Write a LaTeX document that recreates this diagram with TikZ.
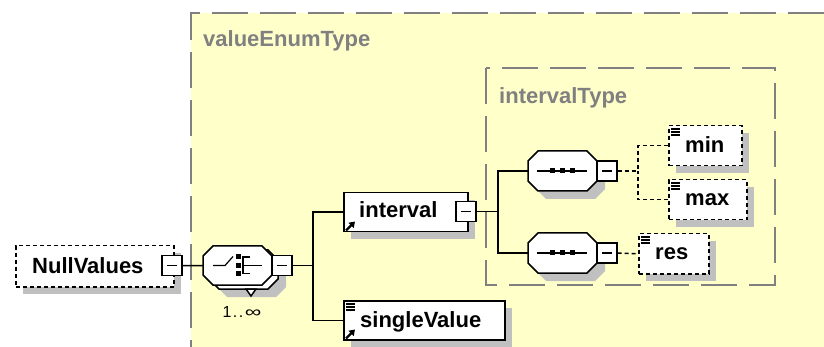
\documentclass[tikz,border=0pt]{standalone}
\usepackage{fontspec}
\setmainfont{Liberation Sans}
\usetikzlibrary{arrows.meta}
\definecolor{ybg}{RGB}{255,255,202}
\definecolor{shg}{RGB}{192,192,192}
\definecolor{tgray}{RGB}{128,128,128}
\newcommand\myoct[5]{\path[#5] ({#1+10},#2) -- ({#3-10},#2) -- (#3,{#2+10}) -- (#3,{#4-10}) -- ({#3-10},#4) -- ({#1+10},#4) -- (#1,{#4-10}) -- (#1,{#2+10}) -- cycle;}
\begin{document}
\begin{tikzpicture}[x=1pt,y=-1pt,
  sh/.style={fill=shg},
  elem/.style={draw=black,line width=1.5pt,fill=white,inner sep=0pt,anchor=north west},
  optel/.style={elem,dash pattern=on 4pt off 3pt},
  anch/.style={inner sep=0pt,anchor=north west},
  oct/.style={draw=black,line width=1.5pt,fill=white},
  minus/.style={draw=black,line width=1.3pt,fill=white,inner sep=0pt,minimum size=20pt,
    path picture={\draw[line width=1.2pt] ([xshift=5pt]path picture bounding box.west) -- ([xshift=-5pt]path picture bounding box.east);}},
  con/.style={draw=black,line width=1.5pt},
  dcon/.style={con,dash pattern=on 4pt off 3pt},
  tbord/.style={draw=tgray,line width=1.8pt,dash pattern=on 36pt off 12pt},
  lbl/.style={font=\bfseries\fontsize{22}{26}\selectfont,inner sep=0pt,anchor=base west},
  tlbl/.style={lbl,text=tgray},
  ico/.style={line width=1.2pt},
  arr/.style={line width=2.3pt,-{Triangle[length=5.5pt,width=7pt]}},
  sq/.style={fill=black}
]
\useasboundingbox (0,0) rectangle (824,347);
% type regions
\fill[ybg] (191,13) rectangle (824,347);
\draw[tbord] (824,13) -- (191,13) -- (191,347);
\draw[tbord] (486,68) rectangle (775,285);
\node[tlbl] (tve) at (203,47) {valueEnumType};
\node[tlbl] (tit) at (499,104) {intervalType};

% NullValues
\fill[sh] (23,253) rectangle (181,294);
\node[optel,minimum width=158pt,minimum height=41pt] (nv) at (15,245) {};
\node[lbl] (nvt) at (32,273) {NullValues};
\node[minus] (nvm) at (172,265.5) {};

% choice
\myoct{217}{258}{286}{297}{sh}
\myoct{209}{250}{278}{289}{oct}
\path[oct] (246,289) -- (256,289) -- (251,296) -- cycle;
\myoct{203}{246}{272}{285}{oct}
\node[anch,minimum width=69pt,minimum height=39pt] (ch) at (203,246) {};
\draw[ico] (213,265.5) -- (225,265.5) -- (233,256.5);
\fill[sq] (235.5,254.5) rectangle (240.5,259.5);
\fill[sq] (235.5,263) rectangle (240.5,268);
\fill[sq] (235.5,271) rectangle (240.5,276);
\draw[ico] (250,257) -- (243,257) -- (243,273.5) -- (250,273.5);
\draw[ico] (243,265.5) -- (262,265.5);
\node[minus] (chm) at (282,265.5) {};
\node[font=\fontsize{16}{18}\selectfont,inner sep=0pt,anchor=base] (occ) at (242,317) {1\kern1.5pt.\kern1.5pt.\kern1.5pt\scalebox{1.45}[1]{∞}};

% interval and singleValue
\fill[sh] (351,200) rectangle (475,239);
\node[elem,minimum width=124pt,minimum height=39pt] (iv) at (343,192) {};
\node[lbl] (ivt) at (359,218) {interval};
\draw[arr] ([shift={(3,-2)}]iv.south west) -- ++(9,-9);
\node[minus] (ivm) at (466,211.5) {};

\fill[sh] (351,308) rectangle (512,347);
\node[elem,minimum width=161pt,minimum height=39pt] (sv) at (343,300) {};
\node[lbl] (svt) at (360,327) {singleValue};
\foreach \d in {4,7,10} \draw[ico] ([shift={(3,\d)}]sv.north west) -- ++(9,0);
\draw[arr] ([shift={(3,-2)}]sv.south west) -- ++(9,-9);

% sequences
\myoct{536}{159}{605}{199}{sh}
\myoct{528}{151}{597}{191}{oct}
\node[anch,minimum width=69pt,minimum height=40pt] (s1) at (528,151) {};
\draw[ico] (537,171) -- (587,171);
\foreach \x in {552,562,572} \fill[sq] (\x-2.5,168.5) rectangle (\x+2.5,173.5);
\node[minus] (s1m) at (607,171) {};

\myoct{536}{241}{605}{281}{sh}
\myoct{528}{233}{597}{273}{oct}
\node[anch,minimum width=69pt,minimum height=40pt] (s2) at (528,233) {};
\draw[ico] (537,253) -- (587,253);
\foreach \x in {552,562,572} \fill[sq] (\x-2.5,250.5) rectangle (\x+2.5,255.5);
\node[minus] (s2m) at (607,253) {};

% min max res
\fill[sh] (676,133) rectangle (749,173);
\node[optel,minimum width=73pt,minimum height=40pt] (mn) at (668,125) {};
\node[lbl] (mnt) at (685,153) {min};
\foreach \d in {4,7,10} \draw[ico] ([shift={(3,\d)}]mn.north west) -- ++(9,0);

\fill[sh] (676,187) rectangle (754,227);
\node[optel,minimum width=78pt,minimum height=40pt] (mx) at (668,179) {};
\node[lbl] (mxt) at (685,206) {max};
\foreach \d in {4,7,10} \draw[ico] ([shift={(3,\d)}]mx.north west) -- ++(9,0);

\fill[sh] (646,241) rectangle (716,281);
\node[optel,minimum width=70pt,minimum height=40pt] (rs) at (638,233) {};
\node[lbl] (rst) at (655,260) {res};
\foreach \d in {4,7,10} \draw[ico] ([shift={(3,\d)}]rs.north west) -- ++(9,0);

% connectors
\coordinate (b1) at (313,265.5);
\coordinate (b2) at (498,211.5);
\coordinate (b3) at (638,171);
\draw[con] (nvm.east) -- (ch.west);
\draw[con] (chm.east) -- (b1);
\draw[con] (iv.west) -| (b1);
\draw[con] (sv.west) -| (b1);
\draw[con] (ivm.east) -- (b2);
\draw[con] (s1.west) -| (b2);
\draw[con] (s2.west) -| (b2);
\draw[dcon] (s1m.east) -- (b3);
\draw[dcon] (mn.west) -| (b3);
\draw[dcon] (mx.west) -| (b3);
\draw[dcon] (s2m.east) -- (rs.west);
\end{tikzpicture}
\end{document}
